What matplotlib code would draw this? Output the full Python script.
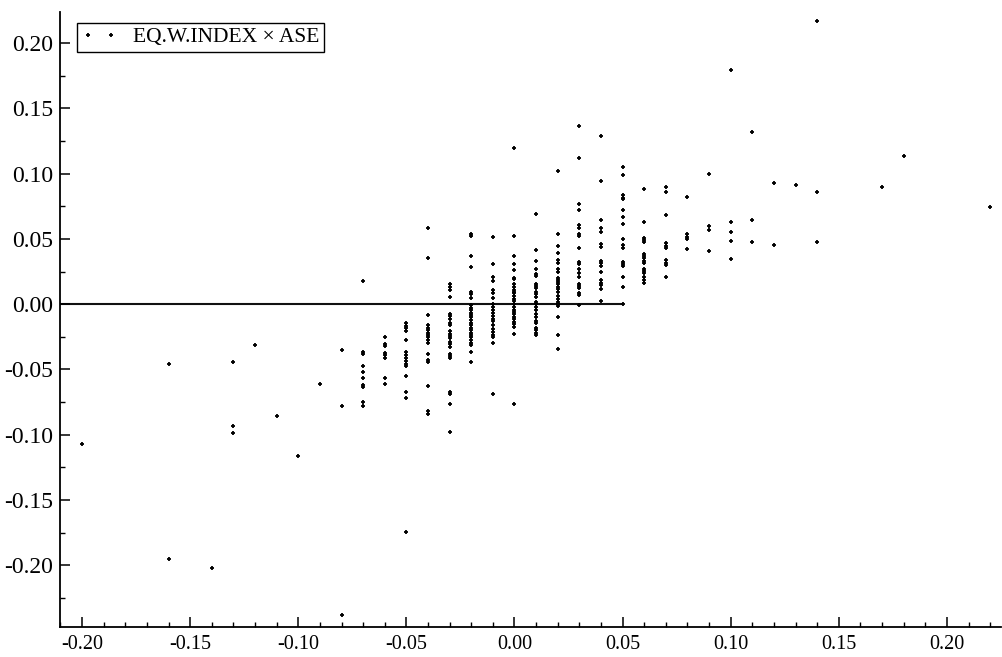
import matplotlib
matplotlib.use("Agg")
import matplotlib.pyplot as plt
from matplotlib.ticker import MultipleLocator, FormatStrFormatter

# ---- data ----
x_cols = [-0.20, -0.16, -0.14, -0.13, -0.12, -0.11, -0.10, -0.09, -0.08, -0.07,
          -0.06, -0.05, -0.04, -0.03, -0.02, -0.01, 0.00, 0.01, 0.02, 0.03,
          0.04, 0.05, 0.06, 0.07, 0.08, 0.09, 0.10, 0.11, 0.12, 0.13,
          0.14, 0.17, 0.18, 0.22]

y_by_col = [
    [-0.107],
    [-0.046, -0.195],
    [-0.202],
    [-0.044, -0.093, -0.099],
    [-0.031],
    [-0.086],
    [-0.116],
    [-0.061],
    [-0.035, -0.078, -0.238],
    [0.018, -0.0365, -0.0378, -0.0475, -0.0518, -0.0562, -0.0621, -0.0638, -0.0748, -0.0779],
    [-0.0255, -0.0307, -0.0322, -0.0373, -0.0391, -0.0409, -0.0562, -0.0613],
    [-0.0143, -0.0169, -0.0186, -0.0205, -0.0276, -0.0365, -0.0391, -0.0409, -0.0434,
     -0.046, -0.0475, -0.0552, -0.0672, -0.0715, -0.1747],
    [0.0585, 0.035, -0.0084, -0.0161, -0.0179, -0.0199, -0.022, -0.0238, -0.0255,
     -0.0276, -0.0296, -0.0378, -0.0424, -0.0442, -0.0626, -0.0817, -0.0838],
    [0.0153, 0.0128, 0.0112, 0.0056, -0.0072, -0.0092, -0.011, -0.0143, -0.0161,
     -0.0205, -0.0225, -0.0245, -0.0263, -0.0289, -0.0307, -0.0327, -0.0378, -0.0398,
     -0.0416, -0.0672, -0.069, -0.0761, -0.0979],
    [0.0541, 0.0521, 0.0368, 0.0286, 0.0094, 0.0077, 0.0051, -0.0008, -0.0026, -0.0046,
     -0.0066, -0.0084, -0.0102, -0.0123, -0.0143, -0.0161, -0.0179, -0.0199, -0.022,
     -0.0238, -0.0255, -0.0276, -0.0296, -0.0314, -0.0365, -0.0442],
    [0.0516, 0.0307, 0.0209, 0.0179, 0.0107, 0.0087, 0.0051, 0.0005, -0.002, -0.0046,
     -0.0066, -0.0092, -0.011, -0.0128, -0.0161, -0.0194, -0.0212, -0.0238, -0.025,
     -0.0301, -0.0685],
    [0.1193, 0.0521, 0.0368, 0.0307, 0.026, 0.0204, 0.0192, 0.0158, 0.0133, 0.0112,
     0.0094, 0.0082, 0.0061, 0.0043, 0.0026, 0.0005, -0.002, -0.0041, -0.0059, -0.0077,
     -0.0097, -0.0117, -0.0136, -0.0153, -0.0174, -0.0225, -0.0761],
    [0.069, 0.0414, 0.0332, 0.0273, 0.023, 0.0215, 0.0158, 0.0138, 0.012, 0.0094,
     0.0077, 0.0056, 0.0018, 0.0005, -0.002, -0.0046, -0.0072, -0.0097, -0.0128,
     -0.0148, -0.0186, -0.0199, -0.022, -0.0238],
    [0.1019, 0.0536, 0.0444, 0.0393, 0.0337, 0.0312, 0.0273, 0.0248, 0.0197, 0.0184,
     0.0171, 0.0153, 0.0133, 0.0113, 0.0094, 0.0061, 0.0043, 0.0018, 0.0, -0.0015,
     -0.0102, -0.0238, -0.034],
    [0.1364, 0.1116, 0.0766, 0.0725, 0.0605, 0.0587, 0.0541, 0.0521, 0.0434, 0.0324,
     0.0307, 0.0266, 0.024, 0.0209, 0.0158, 0.0138, 0.012, 0.0084, 0.0069, -0.0008],
    [0.1285, 0.0943, 0.0644, 0.0585, 0.0554, 0.046, 0.0439, 0.0332, 0.0312, 0.0291,
     0.0248, 0.0184, 0.0163, 0.0146, 0.0113, 0.0023],
    [0.1052, 0.0989, 0.0835, 0.0817, 0.0802, 0.0725, 0.0669, 0.0613, 0.0496, 0.0452,
     0.0434, 0.0324, 0.0307, 0.0291, 0.0209, 0.0128, 0.0005],
    [0.0879, 0.0631, 0.0503, 0.049, 0.0473, 0.0383, 0.0368, 0.035, 0.0332, 0.0312,
     0.0273, 0.0255, 0.0235, 0.0209, 0.0184, 0.0163],
    [0.0894, 0.086, 0.068, 0.0465, 0.0444, 0.0427, 0.0337, 0.0317, 0.0299, 0.0209],
    [0.082, 0.0534, 0.0513, 0.050, 0.0424],
    [0.100, 0.0595, 0.0567, 0.0408],
    [0.179, 0.0628, 0.055, 0.0485, 0.0345],
    [0.1316, 0.0644, 0.0473],
    [0.0927, 0.0457],
    [0.091],
    [0.217, 0.086, 0.0473],
    [0.090],
    [0.1134],
    [0.0746],
]

zero_line_x = [-0.2102, 0.05]
zero_line_y = [0.0, 0.0]

legend_label = "EQ.W.INDEX \u00d7 ASE"
x_ticks = [-0.20, -0.15, -0.10, -0.05, 0.00, 0.05, 0.10, 0.15, 0.20]
y_ticks = [-0.20, -0.15, -0.10, -0.05, 0.00, 0.05, 0.10, 0.15, 0.20]

# ---- flatten ----
xs, ys = [], []
for xc, col in zip(x_cols, y_by_col):
    for yv in col:
        xs.append(xc)
        ys.append(yv)

plt.rcParams['font.family'] = ['Liberation Serif', 'DejaVu Serif']
plt.rcParams['font.size'] = 14.5

fig = plt.figure(figsize=(10.03, 6.57), dpi=100)
ax = fig.add_axes([60 / 1003, 1 - 627 / 657, (1001 - 60) / 1003, (627 - 12) / 657])

ax.plot(zero_line_x, zero_line_y, color='#111111', lw=1.5, zorder=1)
ax.plot(xs, ys, linestyle='none', marker='+', markersize=3.2, markeredgewidth=1.3,
        color='black', label=legend_label, zorder=2)

ax.set_xlim(-0.2102, 0.225)
ax.set_ylim(-0.2473, 0.2238)

ax.set_xticks(x_ticks)
ax.set_yticks(y_ticks)
ax.xaxis.set_major_formatter(FormatStrFormatter('%.2f'))
ax.yaxis.set_major_formatter(FormatStrFormatter('%.2f'))
ax.xaxis.set_minor_locator(MultipleLocator(0.01))
ax.yaxis.set_minor_locator(MultipleLocator(0.025))

for s in ['top', 'right']:
    ax.spines[s].set_visible(False)
for s in ['left', 'bottom']:
    ax.spines[s].set_linewidth(1.3)

ax.tick_params(which='major', direction='in', length=7, width=1.1)
ax.tick_params(which='minor', direction='in', length=3.5, width=1.0)
ax.tick_params(axis='x', which='major', labelsize=14.5, pad=6)
ax.tick_params(axis='y', which='major', labelsize=17, pad=5)

leg = ax.legend(loc='upper left', bbox_to_anchor=(77 / 1003, 1 - 23 / 657),
                bbox_transform=fig.transFigure, borderaxespad=0, numpoints=2,
                fancybox=False, framealpha=1, edgecolor='black', fontsize=15.5,
                handlelength=1.7, borderpad=0.2, handletextpad=0.7)
leg.get_frame().set_linewidth(1.0)

fig.savefig('out.png', dpi=100)
